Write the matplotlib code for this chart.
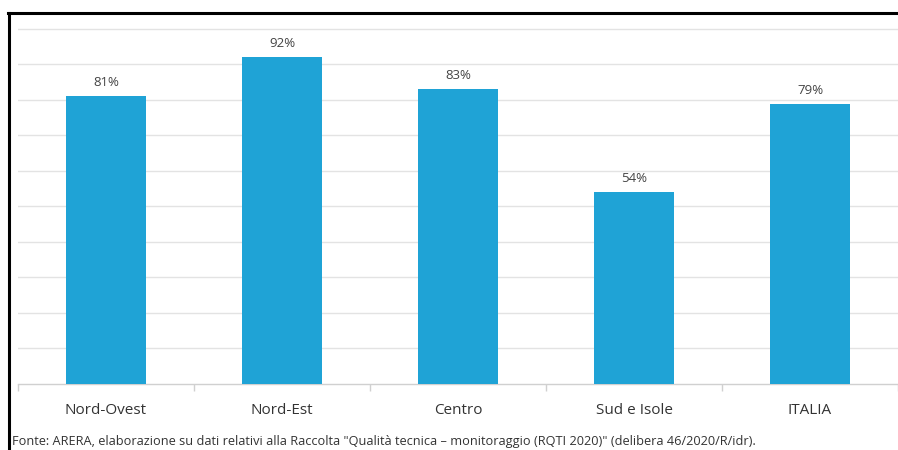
import matplotlib.pyplot as plt
from matplotlib.lines import Line2D

# Quota per area geografica
aree = ['Nord-Ovest', 'Nord-Est', 'Centro', 'Sud e Isole', 'ITALIA']
valori = [81, 92, 83, 54, 79]
etichette = ['81%', '92%', '83%', '54%', '79%']
fonte = ('Fonte: ARERA, elaborazione su dati relativi alla Raccolta "Qualità tecnica \u2013 '
         'monitoraggio (RQTI 2020)" (delibera 46/2020/R/idr).')

plt.rcParams['font.family'] = ['Open Sans', 'DejaVu Sans']

fig = plt.figure(figsize=(8.98, 4.5), dpi=100)
ax = fig.add_axes([18 / 898, 66 / 450, 880 / 898, 371 / 450])

x = range(len(aree))
bars = ax.bar(x, valori, width=0.455, color='#1fa3d6', zorder=3)

for b, txt in zip(bars, etichette):
    ax.annotate(txt, (b.get_x() + b.get_width() / 2, b.get_height()),
                xytext=(0, 5), textcoords='offset points',
                ha='center', va='bottom', fontsize=9.5, color='#444444')

ax.set_xlim(-0.5, 4.5)
ax.set_ylim(0, 104.5)
ax.set_yticks(range(10, 101, 10))
ax.yaxis.grid(True, color='#e3e3e3', linewidth=1.0, zorder=0)
ax.tick_params(axis='y', left=False, labelleft=False)

ax.set_xticks(list(x))
ax.set_xticklabels(aree, fontsize=11, color='#333333')
ax.tick_params(axis='x', which='major', length=0, pad=14)
ax.set_xticks([i - 0.5 for i in range(len(aree) + 1)], minor=True)
ax.tick_params(axis='x', which='minor', length=5, color='#d0d0d0', width=1)

for s in ['top', 'right', 'left']:
    ax.spines[s].set_visible(False)
ax.spines['bottom'].set_color('#d0d0d0')
ax.spines['bottom'].set_linewidth(1)

# cornice nera in alto e a sinistra
fig.add_artist(Line2D([8 / 898, 1.0], [1 - 13 / 450, 1 - 13 / 450],
                      color='black', linewidth=2.2, transform=fig.transFigure))
fig.add_artist(Line2D([9 / 898, 9 / 898], [0, 1 - 13 / 450],
                      color='black', linewidth=2.2, transform=fig.transFigure))

fig.text(12 / 898, 1 - 442 / 450, fonte, fontsize=9.2, color='#333333',
         ha='left', va='center')

fig.savefig('out.png', dpi=100)
